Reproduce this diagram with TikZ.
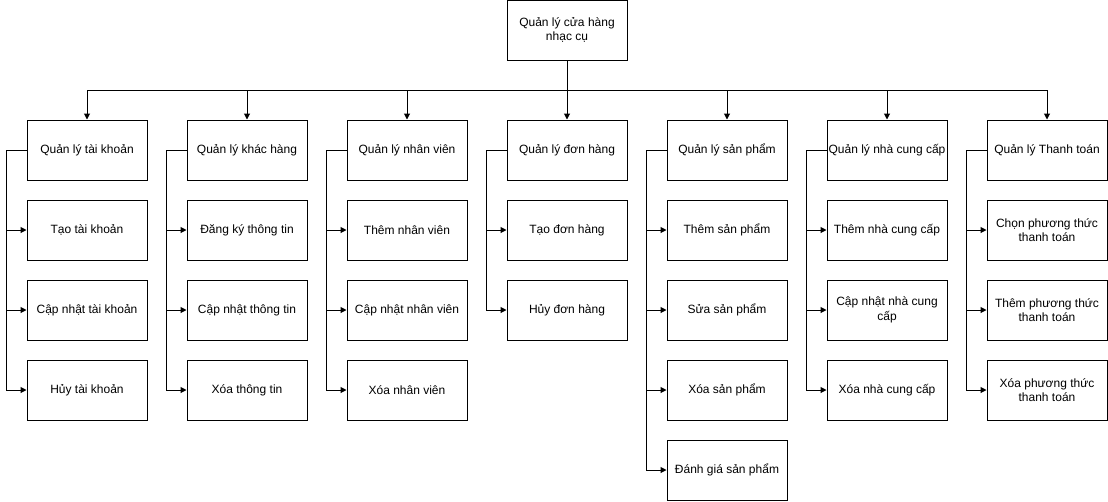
\documentclass[tikz,border=0pt]{standalone}
\usepackage{fontspec}
\setmainfont{Liberation Sans}
\usetikzlibrary{arrows.meta}

\begin{document}
\begin{tikzpicture}
[x = 0.75pt, y = -0.75pt,
 task/.style = {draw = black, line width = 0.75pt, minimum width = 90pt, minimum height = 45pt,
                inner sep = 1pt, align = center, font = \fontsize{9pt}{11pt}\selectfont},
 link/.style = {draw = black, line width = 0.75pt},
 arr/.style = {link, -{Triangle[length = 4.5pt, width = 4.5pt]}}
 ]
\useasboundingbox (0,0) rectangle (1108,501);
% root
\node [task] (root) at (567,30) {Quản lý cửa hàng\\nhạc cụ};
\coordinate (bus) at (567,90);
% main functions
\node [task] (tk) at (87,150) {Quản lý tài khoản};
\node [task] (kh) at (247,150) {Quản lý khác hàng};
\node [task] (nv) at (407,150) {Quản lý nhân viên};
\node [task] (dh) at (567,150) {Quản lý đơn hàng};
\node [task] (sp) at (727,150) {Quản lý sản phẩm};
\node [task] (ncc) at (887,150) {Quản lý nhà cung cấp};
\node [task] (tt) at (1047,150) {Quản lý Thanh toán};
% tai khoan
\node [task] (tk1) at (87,230) {Tạo tài khoản};
\node [task] (tk2) at (87,310) {Cập nhật tài khoản};
\node [task] (tk3) at (87,390) {Hủy tài khoản};
% khach hang
\node [task] (kh1) at (247,230) {Đăng ký thông tin};
\node [task] (kh2) at (247,310) {Cập nhật thông tin};
\node [task] (kh3) at (247,390) {Xóa thông tin};
% nhan vien
\node [task] (nv1) at (407,230) {Thêm nhân viên};
\node [task] (nv2) at (407,310) {Cập nhật nhân viên};
\node [task] (nv3) at (407,390) {Xóa nhân viên};
% don hang
\node [task] (dh1) at (567,230) {Tạo đơn hàng};
\node [task] (dh2) at (567,310) {Hủy đơn hàng};
% san pham
\node [task] (sp1) at (727,230) {Thêm sản phẩm};
\node [task] (sp2) at (727,310) {Sửa sản phẩm};
\node [task] (sp3) at (727,390) {Xóa sản phẩm};
\node [task] (sp4) at (727,470) {Đánh giá sản phẩm};
% nha cung cap
\node [task] (ncc1) at (887,230) {Thêm nhà cung cấp};
\node [task] (ncc2) at (887,310) {Cập nhật nhà cung\\cấp};
\node [task] (ncc3) at (887,390) {Xóa nhà cung cấp};
% thanh toan
\node [task] (tt1) at (1047,230) {Chọn phương thức\\thanh toán};
\node [task] (tt2) at (1047,310) {Thêm phương thức\\thanh toán};
\node [task] (tt3) at (1047,390) {Xóa phương thức\\thanh toán};
% root to main functions
\draw [arr] (root.south) -- (bus) -| (tk.north);
\draw [arr] (root.south) -- (bus) -| (kh.north);
\draw [arr] (root.south) -- (bus) -| (nv.north);
\draw [arr] (root.south) -- (dh.north);
\draw [arr] (root.south) -- (bus) -| (sp.north);
\draw [arr] (root.south) -- (bus) -| (ncc.north);
\draw [arr] (root.south) -- (bus) -| (tt.north);
% main functions to sub functions
\draw [arr] (tk.west) -- ++(-20,0) |- (tk1.west);
\draw [arr] (tk.west) -- ++(-20,0) |- (tk2.west);
\draw [arr] (tk.west) -- ++(-20,0) |- (tk3.west);
\draw [arr] (kh.west) -- ++(-20,0) |- (kh1.west);
\draw [arr] (kh.west) -- ++(-20,0) |- (kh2.west);
\draw [arr] (kh.west) -- ++(-20,0) |- (kh3.west);
\draw [arr] (nv.west) -- ++(-20,0) |- (nv1.west);
\draw [arr] (nv.west) -- ++(-20,0) |- (nv2.west);
\draw [arr] (nv.west) -- ++(-20,0) |- (nv3.west);
\draw [arr] (dh.west) -- ++(-20,0) |- (dh1.west);
\draw [arr] (dh.west) -- ++(-20,0) |- (dh2.west);
\draw [arr] (sp.west) -- ++(-20,0) |- (sp1.west);
\draw [arr] (sp.west) -- ++(-20,0) |- (sp2.west);
\draw [arr] (sp.west) -- ++(-20,0) |- (sp3.west);
\draw [arr] (sp.west) -- ++(-20,0) |- (sp4.west);
\draw [arr] (ncc.west) -- ++(-20,0) |- (ncc1.west);
\draw [arr] (ncc.west) -- ++(-20,0) |- (ncc2.west);
\draw [arr] (ncc.west) -- ++(-20,0) |- (ncc3.west);
\draw [arr] (tt.west) -- ++(-20,0) |- (tt1.west);
\draw [arr] (tt.west) -- ++(-20,0) |- (tt2.west);
\draw [arr] (tt.west) -- ++(-20,0) |- (tt3.west);
\end{tikzpicture}
\end{document}
